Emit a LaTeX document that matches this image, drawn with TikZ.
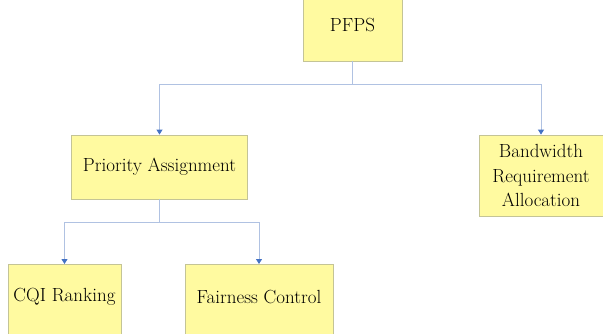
\documentclass[tikz,border=0pt]{standalone}
\usetikzlibrary{arrows.meta}
\definecolor{boxfill}{RGB}{255,250,160}
\definecolor{boxline}{RGB}{196,196,150}
\definecolor{linkline}{RGB}{176,194,226}
\definecolor{tipblue}{RGB}{68,114,196}
\tikzset{
  box/.style={draw=boxline, fill=boxfill, line width=0.8pt, inner sep=0pt,
    align=center, font=\fontsize{19}{24.5}\selectfont},
  label text/.style={inner sep=0pt, font=\fontsize{19}{24.5}\selectfont},
  conn/.style={draw=linkline, line width=0.9pt,
    -{Triangle[color=tipblue, width=6pt, length=5pt]}},
  plain/.style={draw=linkline, line width=0.9pt}
}
\begin{document}
\begin{tikzpicture}[x=1pt,y=-1pt]
  \useasboundingbox (0,0) rectangle (603,333);
  \clip (0,0) rectangle (603,333);

  % top level
  \node[box, minimum width=99pt, minimum height=72pt] (pfps) at (352.5,25) {PFPS};

  % second level
  \node[box, minimum width=176pt, minimum height=64pt] (pa) at (159.5,167) {Priority Assignment};
  \node[box, minimum width=124pt, minimum height=81pt] (bra) at (541,175.5)
    {Bandwidth\\Requirement\\Allocation};

  % third level (boxes run past the lower edge)
  \node[box, minimum width=113pt, minimum height=90pt, anchor=north] (cqi) at (64.5,264) {};
  \node[label text] (cqitext) at (64.5,297) {CQI Ranking};
  \node[box, minimum width=148pt, minimum height=90pt, anchor=north] (fc) at (259,264) {};
  \node[label text] (fctext) at (259,297) {Fairness Control};

  % junctions of the elbow connectors
  \coordinate (j1) at (352.5,84);
  \coordinate (j2) at (159.5,222);

  \draw[plain] (pfps.south) -- (j1);
  \draw[conn] (j1) -| (pa.north);
  \draw[conn] (j1) -| (bra.north);

  \draw[plain] (pa.south) -- (j2);
  \draw[conn] (j2) -| (cqi.north);
  \draw[conn] (j2) -| (fc.north);
\end{tikzpicture}
\end{document}
